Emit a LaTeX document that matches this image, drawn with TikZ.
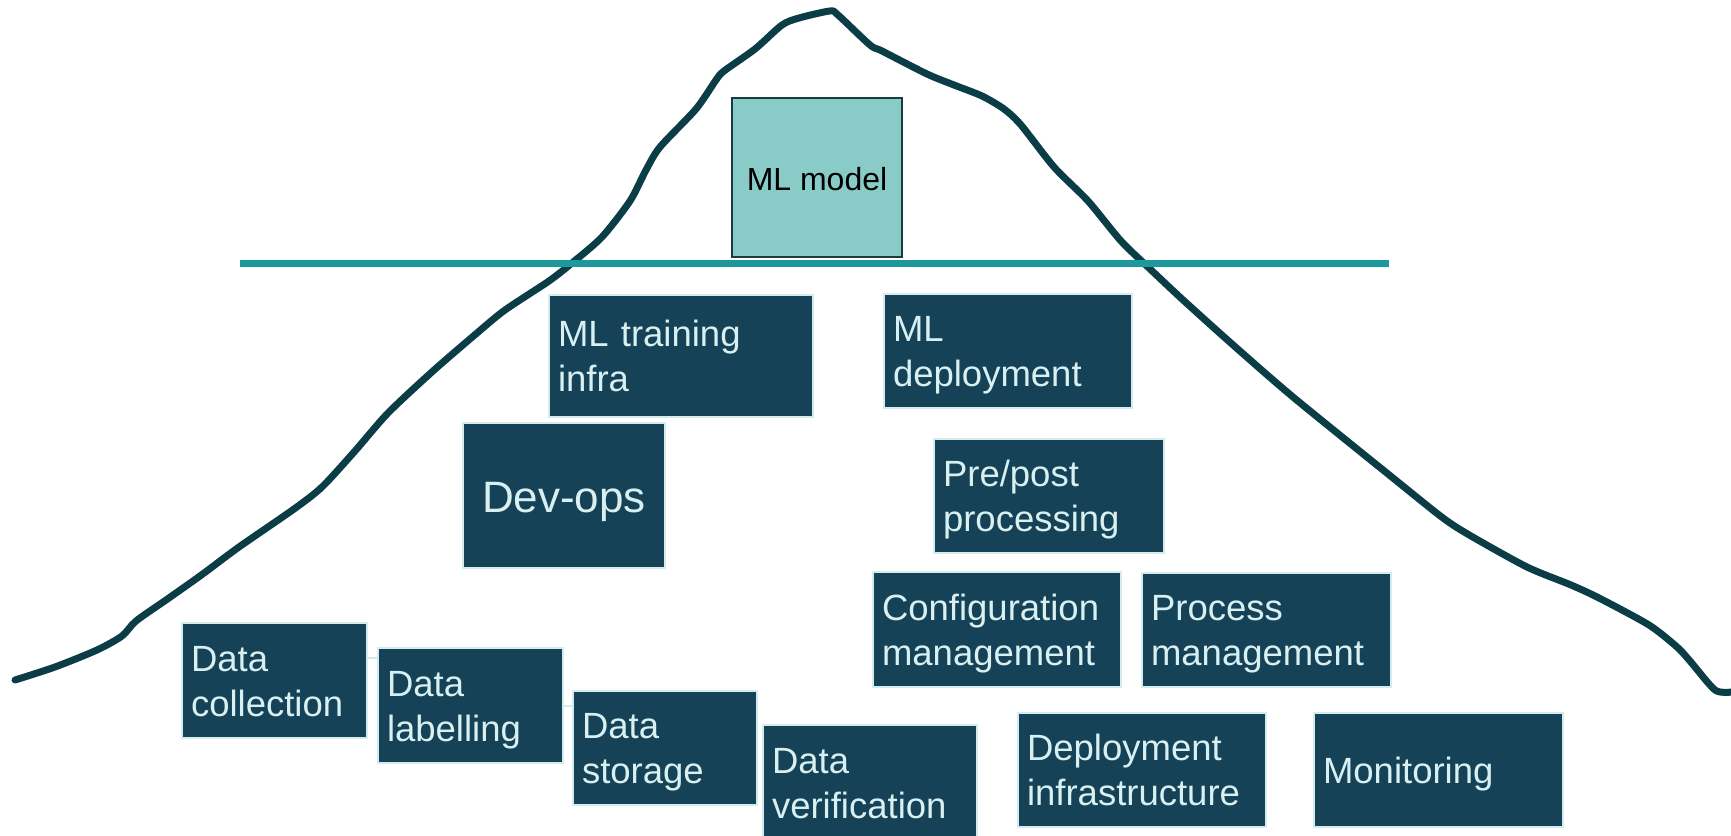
\documentclass[tikz,border=0pt]{standalone}
\usepackage{fontspec}
\setmainfont{Liberation Sans}
\usetikzlibrary{calc}
\definecolor{boxfill}{HTML}{154256}
\definecolor{boxedge}{HTML}{D3ECEE}
\definecolor{boxtext}{HTML}{D8F0F1}
\definecolor{ridge}{HTML}{0A3D45}
\definecolor{waterline}{HTML}{1D989C}
\definecolor{modelfill}{HTML}{88CBC7}
\definecolor{modeledge}{HTML}{1B3B40}
\tikzset{
  task/.style 2 args={draw=boxedge, line width=2.2pt, fill=boxfill, text=boxtext,
    anchor=north west, outer sep=0pt, inner xsep=9pt, inner ysep=0pt,
    minimum width=#1pt, minimum height=#2pt, text width=#1pt-18pt, align=left,
    text height=34pt, text depth=53pt,
    font=\fontsize{36.5}{45}\selectfont},
  link/.style={draw=boxedge, line width=2pt},
}
\begin{document}
\begin{tikzpicture}[x=1pt, y=-1pt]
\useasboundingbox (0,0) rectangle (1731,835);
\fill[white] (0,0) rectangle (1731,835);

% mountain outline
\draw[ridge, line width=7pt, line cap=round, line join=round]
  plot[smooth, tension=0.45] coordinates {
    (15,680) (55,667) (97,650) (122,636) (136,621) (166,600) (200,576)
    (239,547) (294,509) (322,487) (355,451) (388,413) (433,371) (477,333)
    (505,310) (549,281) (572,263) (602,237) (630,201) (646,170) (660,147)
    (696,109) (716,80) (724,71) (755,49) (782,25) (799,18) (830,11) (838,15)
    (870,45) (882,51) (927,74) (954,85) (982,96) (1004,109) (1021,125)
    (1054,167) (1088,201) (1121,241) (1149,268) (1182,299) (1232,344)
    (1293,397) (1393,478) (1443,518) (1471,536) (1527,567) (1571,585)
    (1599,598) (1649,625) (1677,647) (1690,661) (1715,690) (1731,692)};

% waterline
\draw[waterline, line width=7.5pt] (240,263.5) -- (1389,263.5);

% tip of the iceberg
\node[draw=modeledge, line width=2.5pt, fill=modelfill, anchor=north west,
  outer sep=0pt, minimum width=170pt, minimum height=159pt,
  text height=25pt, text depth=0pt,
  font=\fontsize{32}{38}\selectfont] (model) at (732,98) {ML model};

% below the surface
\node[task={264}{122}] (train) at (549,295) {ML training\\infra};
\node[task={202}{145}, align=center, text height=42pt, text depth=9pt,
  font=\fontsize{44}{52}\selectfont] (devops) at (463,423) {Dev-ops};
\node[task={248}{114}] (mldep) at (884,294) {ML\\deployment};
\node[task={230}{114}] (prepost) at (934,439) {Pre/post\\processing};
\node[task={248}{115}] (config) at (873,572) {Configuration\\management};
\node[task={249}{114}] (process) at (1142,573) {Process\\management};
\node[task={185}{115}] (collect) at (182,623) {Data\\collection};
\node[task={185}{115}] (label) at (378,648) {Data\\labelling};
\node[task={184}{114}] (storage) at (573,691) {Data\\storage};
\node[task={214}{115}] (verify) at (763,725) {Data\\verification};
\node[task={248}{114}] (depinfra) at (1018,713) {Deployment\\infrastructure};
\node[task={249}{114}, text height=34pt, text depth=8pt] (monitor) at (1314,713) {Monitoring};

% short links between the data steps
\coordinate (c1) at ($(collect.north east)!0.3!(collect.south east)$);
\draw[link] (c1) -- (c1 -| label.west);
\draw[link] (label.east) -- (label.east -| storage.west);
\end{tikzpicture}
\end{document}
